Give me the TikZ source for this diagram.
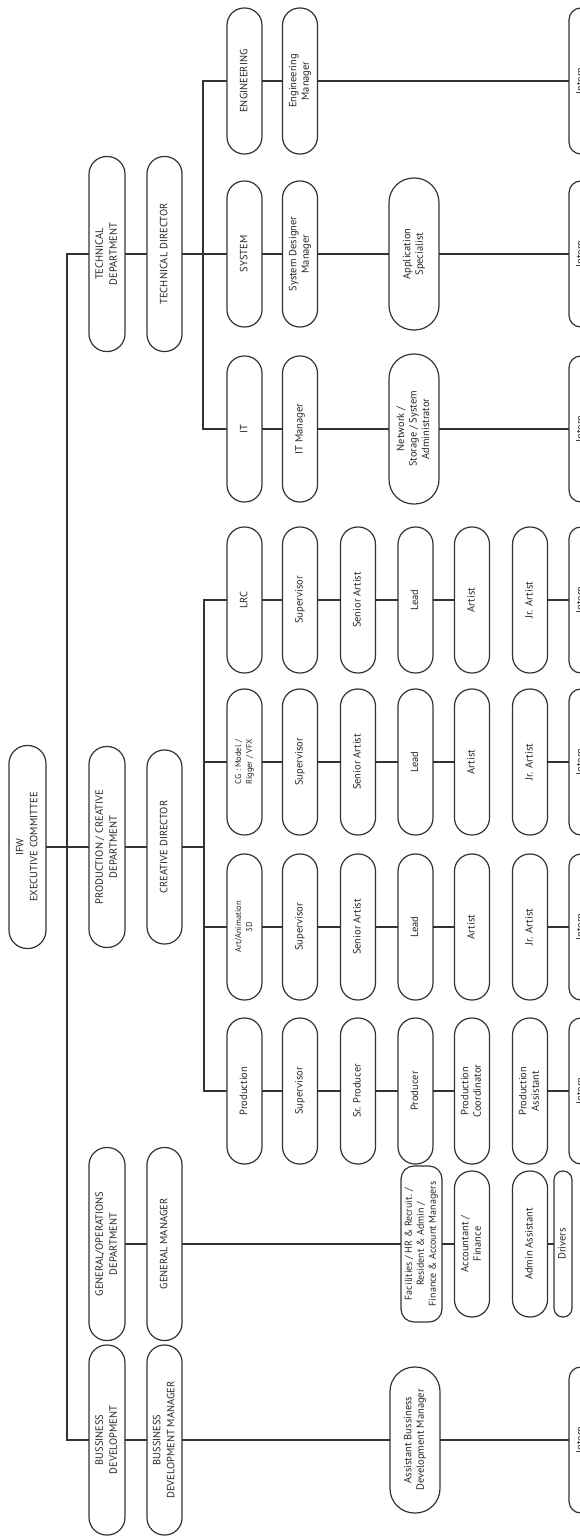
\documentclass[tikz,border=0pt]{standalone}
\usepackage{fontspec}
\setmainfont{PT Sans}
\usepackage{graphicx}
\newcommand{\tx}[1]{\rotatebox{90}{\begin{tabular}{@{}c@{}}#1\end{tabular}}}
\newcommand{\capfont}{\fontsize{10.5}{14}\selectfont}
\newcommand{\lowfont}{\fontsize{10.5}{12.5}\selectfont}
\newcommand{\smallfnt}{\fontsize{8.5}{11}\selectfont}
\newcommand{\facfont}{\fontsize{10}{12}\selectfont}
\tikzset{
  pill/.style 2 args={draw=black!80, line width=1.2pt, inner sep=0pt, outer sep=0pt,
    minimum width=#1, minimum height=#2, rounded corners=#1*0.49, text=black!85, font=\lowfont},
  caps/.style={font=\capfont},
  smalltxt/.style={font=\smallfnt},
  conn/.style={draw=black!80, line width=1.2pt},
}
\begin{document}
\begin{tikzpicture}[x=1pt,y=-1pt]
\useasboundingbox (0,0) rectangle (580,1536);
\clip (0,0) rectangle (580,1536);
% level 0
\node[pill={37pt}{203pt},caps] (ifw) at (27.5,847) {\tx{IFW\\EXECUTIVE COMMITTEE}};
% level 1
\node[pill={36pt}{195pt},caps] (techdept) at (107,254) {\tx{TECHNICAL\\DEPARTMENT}};
\node[pill={36pt}{201pt},caps] (proddept) at (107,847) {\tx{PRODUCTION / CREATIVE\\DEPARTMENT}};
\node[pill={36pt}{193pt},caps] (gendept) at (107,1244) {\tx{GENERAL/OPERATIONS\\DEPARTMENT}};
\node[pill={36pt}{190pt},caps] (bddept) at (107,1440) {\tx{BUSSINESS\\DEVELOPMENT}};
% level 2
\node[pill={35pt}{195pt},caps] (techdir) at (164.5,254) {\tx{TECHNICAL DIRECTOR}};
\node[pill={35pt}{194pt},caps] (creatdir) at (164.5,847) {\tx{CREATIVE DIRECTOR}};
\node[pill={35pt}{193pt},caps] (gm) at (164.5,1244) {\tx{GENERAL MANAGER}};
\node[pill={35pt}{190pt},caps] (bdm) at (164.5,1440) {\tx{BUSSINESS\\DEVELOPMENT MANAGER}};
% level 3
\node[pill={35pt}{146pt},caps] (eng) at (244.5,81) {\tx{ENGINEERING}};
\node[pill={35pt}{146pt},caps] (sys) at (244.5,254) {\tx{SYSTEM}};
\node[pill={35pt}{146pt},caps] (it) at (244.5,429) {\tx{IT}};
\node[pill={35pt}{146pt},caps] (lrc) at (244.5,600) {\tx{LRC}};
\node[pill={35pt}{146pt},smalltxt] (cg) at (244.5,762) {\tx{CG : Model /\\Rigger / VFX}};
\node[pill={35pt}{146pt},smalltxt] (art) at (244.5,927) {\tx{Art/Animation\\3D}};
\node[pill={35pt}{146pt}] (prod) at (244.5,1091) {\tx{Production}};
% level 4
\node[pill={35pt}{146pt}] (engm) at (300,81) {\tx{Engineering\\Manager}};
\node[pill={35pt}{146pt}] (sdm) at (300,254) {\tx{System Designer\\Manager}};
\node[pill={35pt}{146pt}] (itm) at (300,429) {\tx{IT Manager}};
\node[pill={35pt}{146pt}] (sup1) at (300,600) {\tx{Supervisor}};
\node[pill={35pt}{146pt}] (sup2) at (300,762) {\tx{Supervisor}};
\node[pill={35pt}{146pt}] (sup3) at (300,927) {\tx{Supervisor}};
\node[pill={35pt}{146pt}] (sup4) at (300,1091) {\tx{Supervisor}};
% level 5
\node[pill={35pt}{146pt}] (sa1) at (358,600) {\tx{Senior Artist}};
\node[pill={35pt}{146pt}] (sa2) at (358,762) {\tx{Senior Artist}};
\node[pill={35pt}{146pt}] (sa3) at (358,927) {\tx{Senior Artist}};
\node[pill={35pt}{146pt}] (srp) at (358,1091) {\tx{Sr. Producer}};
% level 6
\node[pill={50pt}{152pt}] (appsp) at (414,254) {\tx{Application\\Specialist}};
\node[pill={50pt}{150pt}] (net) at (414,429) {\tx{Network /\\Storage / System\\Administrator}};
\node[pill={35pt}{146pt}] (lead1) at (415.5,600) {\tx{Lead}};
\node[pill={35pt}{146pt}] (lead2) at (415.5,762) {\tx{Lead}};
\node[pill={35pt}{146pt}] (lead3) at (415.5,927) {\tx{Lead}};
\node[pill={35pt}{146pt}] (producer) at (415.5,1091) {\tx{Producer}};
\node[pill={41pt}{156pt}, rounded corners=13pt, font=\facfont] (facil) at (421.5,1244) {\tx{Facilities / HR \& Recruit. /\\Resident \& Admin /\\Finance \& Account Managers}};
\node[pill={50pt}{146pt}] (abdm) at (415,1440) {\tx{Assistant Bussiness\\Development Manager}};
% level 7
\node[pill={35pt}{146pt}] (artist1) at (472,600) {\tx{Artist}};
\node[pill={35pt}{146pt}] (artist2) at (472,762) {\tx{Artist}};
\node[pill={35pt}{146pt}] (artist3) at (472,927) {\tx{Artist}};
\node[pill={35pt}{146pt}] (pcoord) at (472,1091) {\tx{Production\\Coordinator}};
\node[pill={35pt}{146pt}] (acct) at (472,1244) {\tx{Accountant /\\Finance}};
% level 8
\node[pill={35pt}{146pt}] (jr1) at (530,600) {\tx{Jr. Artist}};
\node[pill={35pt}{146pt}] (jr2) at (530,762) {\tx{Jr. Artist}};
\node[pill={35pt}{146pt}] (jr3) at (530,927) {\tx{Jr. Artist}};
\node[pill={35pt}{146pt}] (passt) at (530,1091) {\tx{Production\\Assistant}};
\node[pill={35pt}{146pt}] (admin) at (530,1244) {\tx{Admin Assistant}};
\node[pill={18pt}{146pt}] (drivers) at (563,1244) {\tx{Drivers}};
% level 9 (interns, cut by the edge)
\node[pill={24pt}{146pt}] (in1) at (581,81) {\tx{Intern}};
\node[pill={24pt}{146pt}] (in2) at (581,254) {\tx{Intern}};
\node[pill={24pt}{146pt}] (in3) at (581,429) {\tx{Intern}};
\node[pill={24pt}{146pt}] (in4) at (581,600) {\tx{Intern}};
\node[pill={24pt}{146pt}] (in5) at (581,762) {\tx{Intern}};
\node[pill={24pt}{146pt}] (in6) at (581,927) {\tx{Intern}};
\node[pill={24pt}{146pt}] (in7) at (581,1091) {\tx{Intern}};
\node[pill={24pt}{146pt}] (in8) at (581,1440) {\tx{Intern}};
% spines
\coordinate (spT) at (67,254);
\coordinate (spB) at (67,1440);
\coordinate (tT) at (203,81);
\coordinate (tB) at (203,429);
\coordinate (pT) at (204,600);
\coordinate (pB) at (204,1091);
\draw[conn] (techdept.west) -- (spT) -- (spB) -- (bddept.west);
\draw[conn] (ifw.east) -- (proddept.west);
\draw[conn] (eng.west) -- (tT) -- (tB) -- (it.west);
\draw[conn] (lrc.west) -- (pT) -- (pB) -- (prod.west);
\draw[conn] (creatdir.east) -- (creatdir.east -| pT);
\draw[conn] (cg.west) -- (cg.west -| pT);
\draw[conn] (art.west) -- (art.west -| pT);
\foreach \a/\b in {techdept/techdir, proddept/creatdir, gendept/gm, bddept/bdm,
  techdir/sys, eng/engm, engm/in1, sys/sdm, sdm/appsp, appsp/in2,
  it/itm, itm/net, net/in3,
  lrc/sup1, sup1/sa1, sa1/lead1, lead1/artist1, jr1/in4,
  cg/sup2, sup2/sa2, sa2/lead2, lead2/artist2, jr2/in5,
  art/sup3, sup3/sa3, sa3/lead3, lead3/artist3, jr3/in6,
  prod/sup4, sup4/srp, srp/producer, producer/pcoord, passt/in7,
  gm/facil, facil/acct, admin/drivers,
  bdm/abdm, abdm/in8}
  \draw[conn] (\a.east) -- (\b.west);
\end{tikzpicture}
\end{document}
